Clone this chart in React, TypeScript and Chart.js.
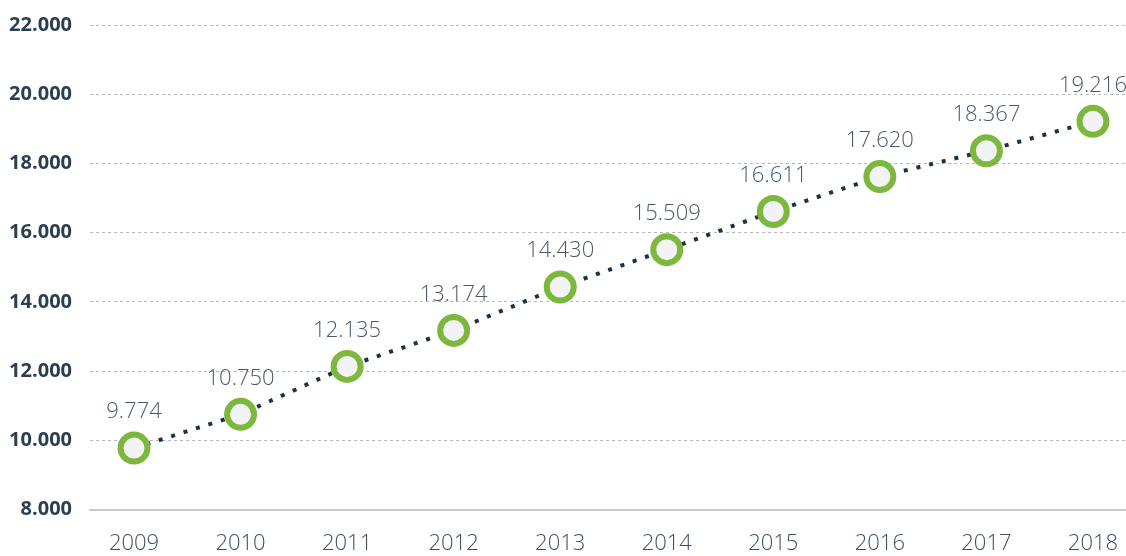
import React, { useEffect, useRef } from "react";
import { Chart, registerables } from "chart.js";

Chart.register(...registerables);

const years = [2009, 2010, 2011, 2012, 2013, 2014, 2015, 2016, 2017, 2018];
const values = [9774, 10750, 12135, 13174, 14430, 15509, 16611, 17620, 18367, 19216];
const yMin = 8000;
const yMax = 22000;
const yStep = 2000;

const fmt = (v: number) => {
  const s = String(Math.round(v));
  return s.replace(/\B(?=(\d{3})+(?!\d))/g, ".");
};

const labelPlugin = {
  id: "valueLabels",
  afterDatasetsDraw(chart: any) {
    const ctx = chart.ctx;
    const meta = chart.getDatasetMeta(0);
    ctx.save();
    ctx.font = "300 22px 'Open Sans'";
    ctx.fillStyle = "#4a5a6b";
    ctx.textAlign = "center";
    ctx.textBaseline = "middle";
    meta.data.forEach((el: any, i: number) => {
      ctx.fillText(fmt(values[i]), el.x, el.y - 36);
    });
    ctx.restore();
  },
};

export default function App() {
  const ref = useRef<HTMLCanvasElement>(null);
  useEffect(() => {
    if (!ref.current) return;
    const chart = new Chart(ref.current, {
      type: "line",
      data: {
        datasets: [
          {
            data: years.map((y, i) => ({ x: y, y: values[i] })),
            borderColor: "#1e3246",
            borderWidth: 4,
            borderDash: [4, 9],
            borderCapStyle: "butt",
            pointRadius: 13.5,
            pointHoverRadius: 13.5,
            pointBorderWidth: 6,
            pointBorderColor: "#7cb83e",
            pointBackgroundColor: "#f3f3f6",
            tension: 0,
            clip: false,
          },
        ],
      },
      options: {
        animation: false,
        responsive: false,
        layout: { autoPadding: false, padding: { top: 25, right: 0, left: 0, bottom: 0 } },
        plugins: { legend: { display: false }, tooltip: { enabled: false } },
        scales: {
          x: {
            type: "linear",
            min: 2008.587,
            max: 2018.31,
            afterBuildTicks: (s: any) => {
              s.ticks = years.map((v) => ({ value: v }));
            },
            afterFit: (s: any) => {
              s.height = 46.5;
              s.paddingLeft = 0;
              s.paddingRight = 0;
            },
            grid: { display: false, drawTicks: false },
            border: { display: true, color: "#c8c8c8", width: 2 },
            ticks: {
              padding: 21,
              color: "#3c4f63",
              font: { family: "'Open Sans'", size: 22, weight: "300" },
              callback: (v: any) => String(v),
              autoSkip: false,
              maxRotation: 0,
            },
          },
          y: {
            min: yMin,
            max: yMax,
            afterFit: (s: any) => {
              s.width = 90;
              s.paddingTop = 0;
              s.paddingBottom = 0;
            },
            grid: {
              drawTicks: false,
              color: (c: any) => (c.tick && c.tick.value === yMin ? "rgba(0,0,0,0)" : "#b8b8b8"),
              lineWidth: 1,
            },
            border: { display: false, dash: [3, 3] },
            ticks: {
              stepSize: yStep,
              padding: 18,
              color: "#2c3e50",
              font: { family: "'Open Sans'", size: 20, weight: "bold" },
              callback: (v: any) => fmt(Number(v)),
            },
          },
        },
      },
      plugins: [labelPlugin],
    } as any);
    return () => chart.destroy();
  }, []);
  return (
    <div style={{ position: "fixed", left: 0, top: 0, width: 1126, height: 556, background: "#fff" }}>
      <canvas ref={ref} width={1126} height={556} style={{ width: 1126, height: 556 }} />
    </div>
  );
}
